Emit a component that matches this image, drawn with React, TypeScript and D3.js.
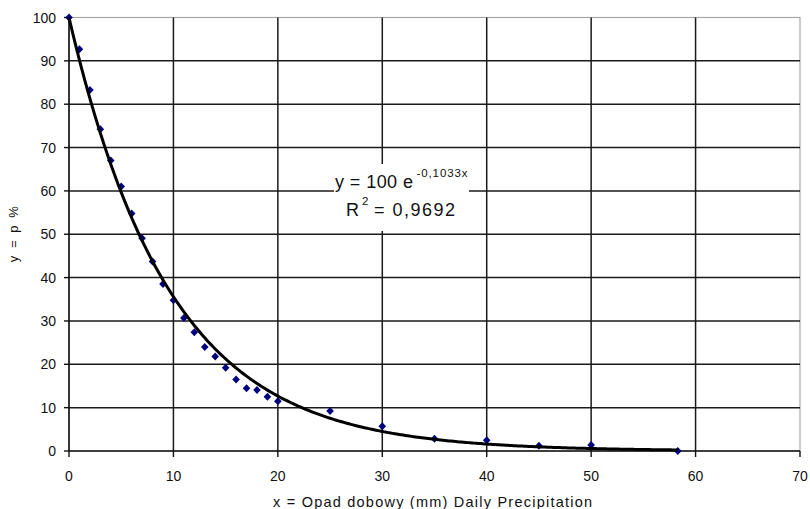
import React from "react";
import * as d3 from "d3";

const precipX: number[] = [0, 1, 2, 3, 4, 5, 6, 7, 8, 9, 10, 11, 12, 13, 14, 15, 16, 17, 18, 19, 20, 25, 30, 35, 40, 45, 50, 58.3];
const percentY: number[] = [100, 92.7, 83.3, 74.2, 67, 61, 54.8, 49.1, 43.7, 38.5, 34.8, 30.7, 27.4, 24, 21.8, 19.2, 16.5, 14.5, 14.1, 12.5, 11.5, 9.2, 5.7, 2.8, 2.5, 1.2, 1.4, 0];
const xTicks: number[] = [0, 10, 20, 30, 40, 50, 60, 70];
const yTicks: number[] = [0, 10, 20, 30, 40, 50, 60, 70, 80, 90, 100];
const fitA = 100;
const fitB = -0.1033;
const eqText = "y = 100 e";
const eqExp = "-0,1033x";
const r2Value = "= 0,9692";
const xTitle = "x =  Opad dobowy (mm) Daily Precipitation";
const yTitle = "y = p %";

const W = 810;
const H = 509;
const FONT = "'Liberation Sans', Arial, sans-serif";

export default function App() {
  const x = d3.scaleLinear().domain([0, 70]).range([69, 800]);
  const y = d3.scaleLinear().domain([0, 100]).range([451, 17.5]);

  const xMax = precipX[precipX.length - 1];
  const fitPts: [number, number][] = d3.range(0, xMax + 0.001, 0.2).map((v) => [v, fitA * Math.exp(fitB * v)]);
  fitPts.push([xMax, fitA * Math.exp(fitB * xMax)]);
  const line = d3.line<[number, number]>().x((d) => x(d[0])).y((d) => y(d[1]));

  const data = precipX.map((v, i) => ({ x: v, y: percentY[i] }));
  const diamond = (cx: number, cy: number) => `M${cx},${cy - 4}L${cx + 3.8},${cy}L${cx},${cy + 4}L${cx - 3.8},${cy}Z`;

  return (
    <svg width={W} height={H} style={{ position: "absolute", left: 0, top: 0, background: "#fff" }} fontFamily={FONT}>
      <rect x={0} y={0} width={W} height={H} fill="#fff" />
      {/* plot border */}
      <rect x={x(0)} y={y(100)} width={x(70) - x(0)} height={y(0) - y(100)} fill="#fff" stroke="#a8a8a8" strokeWidth={1.2} />
      {/* gridlines */}
      {xTicks.filter((t) => t > 0 && t < 70).map((t) => (
        <line key={"gx" + t} x1={x(t)} x2={x(t)} y1={y(100)} y2={y(0)} stroke="#1a1a1a" strokeWidth={1.5} />
      ))}
      {yTicks.filter((t) => t > 0 && t < 100).map((t) => (
        <line key={"gy" + t} x1={x(0)} x2={x(70)} y1={y(t)} y2={y(t)} stroke="#1a1a1a" strokeWidth={1.5} />
      ))}
      {/* axes */}
      <line x1={x(0)} x2={x(0)} y1={y(100)} y2={y(0)} stroke="#111" strokeWidth={1.6} />
      <line x1={x(0)} x2={x(70)} y1={y(0)} y2={y(0)} stroke="#111" strokeWidth={1.6} />
      {yTicks.map((t) => (
        <g key={"ty" + t}>
          <line x1={x(0) - 5} x2={x(0)} y1={y(t)} y2={y(t)} stroke="#111" strokeWidth={1.4} />
          <text x={56} y={y(t)} dy="0.36em" textAnchor="end" fontSize={14} fill="#111">{t}</text>
        </g>
      ))}
      {xTicks.map((t) => (
        <g key={"tx" + t}>
          <line x1={x(t)} x2={x(t)} y1={y(0)} y2={y(0) + 6} stroke="#111" strokeWidth={1.4} />
          <text x={x(t)} y={476} dy="0.36em" textAnchor="middle" fontSize={14} fill="#111">{t}</text>
        </g>
      ))}
      {/* data markers */}
      {data.map((d, i) => (
        <path key={"p" + i} d={diamond(x(d.x), y(d.y))} fill="#000080" />
      ))}
      {/* trendline */}
      <path d={line(fitPts) || ""} fill="none" stroke="#000" strokeWidth={3} strokeLinejoin="round" />
      {/* equation label */}
      <rect x={334} y={164} width={135} height={67} fill="#fff" />
      <text x={335} y={187.5} fontSize={18} fill="#111" textLength={78} lengthAdjust="spacing">{eqText}</text>
      <text x={416.5} y={176.5} fontSize={11.5} fill="#111" textLength={51} lengthAdjust="spacing">{eqExp}</text>
      <text x={346} y={216} fontSize={18} fill="#111">R</text>
      <text x={362} y={205} fontSize={11.5} fill="#111">2</text>
      <text x={374} y={216} fontSize={18} fill="#111" textLength={81} lengthAdjust="spacing">{r2Value}</text>
      {/* axis titles */}
      <text x={432.5} y={502} dy="0.36em" textAnchor="middle" fontSize={14.5} fill="#111" textLength={319} lengthAdjust="spacing">{xTitle}</text>
      <text transform={`translate(13,${y(50)}) rotate(-90)`} dy="0.36em" textAnchor="middle" fontSize={13} fill="#111" textLength={56} lengthAdjust="spacing">{yTitle}</text>
    </svg>
  );
}
